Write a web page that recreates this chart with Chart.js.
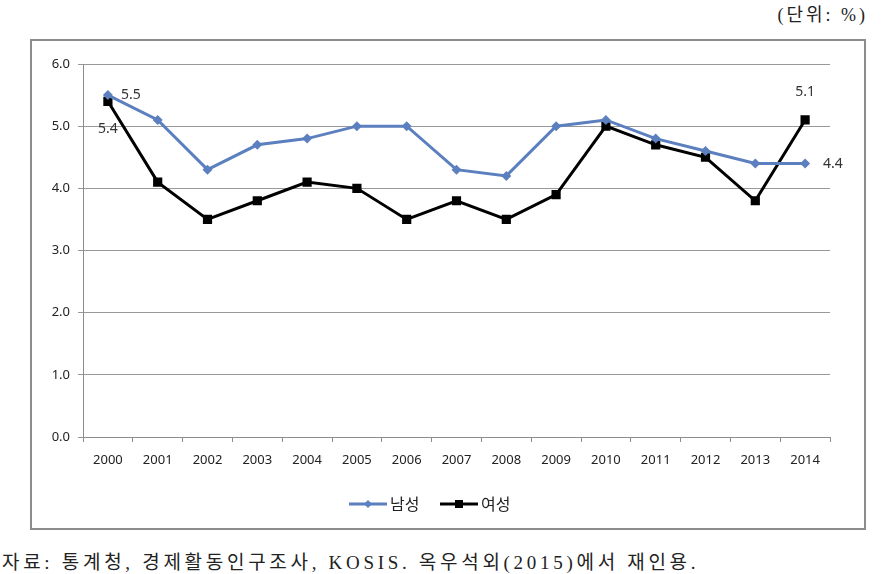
<!DOCTYPE html>
<html>
<head>
<meta charset="utf-8">
<script src="https://cdn.jsdelivr.net/npm/chart.js@4"></script>
<style>
  body { margin: 0; background: #fff; width: 894px; height: 574px; position: relative; overflow: hidden; }
  #unit { position: absolute; right: 26px; top: 0px; font-family: "Liberation Serif", "Noto Sans CJK KR", serif; font-size: 18px; letter-spacing: 3px; color: #222; }
  #box { position: absolute; left: 30px; top: 39px; width: 836px; height: 491px; border: 2px solid #8c8c8c; box-sizing: border-box; }
  #caption { position: absolute; left: 2px; top: 547px; font-family: "Liberation Serif", "Noto Sans CJK KR", serif; font-size: 19px; letter-spacing: 3.7px; color: #222; }
</style>
</head>
<body>
<div id="unit">(단위: %)</div>
<div id="box"><canvas id="rateChart" width="832" height="487"></canvas></div>
<div id="caption">자료: 통계청, 경제활동인구조사, KOSIS. 옥우석외(2015)에서 재인용.</div>
<script>
// data
const years = ['2000', '2001', '2002', '2003', '2004', '2005', '2006', '2007',
               '2008', '2009', '2010', '2011', '2012', '2013', '2014'];
const maleRate = [5.5, 5.1, 4.3, 4.7, 4.8, 5.0, 5.0, 4.3, 4.2, 5.0, 5.1, 4.8, 4.6, 4.4, 4.4];
const femaleRate = [5.4, 4.1, 3.5, 3.8, 4.1, 4.0, 3.5, 3.8, 3.5, 3.9, 5.0, 4.7, 4.5, 3.8, 5.1];
const seriesNames = ['남성', '여성'];

const blue = '#5b7fbf';
const labelFont = '14px "Noto Sans", sans-serif';

// only first and last points carry a label, like the original
const pointLabels = [
    { ds: 0, idx: 0, dx: 13, dy: 0, align: 'left' },
    { ds: 1, idx: 0, dx: 0, dy: 28, align: 'center' },
    { ds: 1, idx: 14, dx: 0, dy: -28, align: 'center' },
    { ds: 0, idx: 14, dx: 18, dy: 1, align: 'left' }
];

const labelPlugin = {
    id: 'pointLabels',
    afterDatasetsDraw(chart) {
        const ctx = chart.ctx;
        ctx.save();
        ctx.font = labelFont;
        ctx.fillStyle = '#333';
        ctx.textBaseline = 'middle';
        pointLabels.forEach(l => {
            const pt = chart.getDatasetMeta(l.ds).data[l.idx];
            const v = chart.data.datasets[l.ds].data[l.idx];
            ctx.textAlign = l.align;
            ctx.fillText(v.toFixed(1), pt.x + l.dx, pt.y + l.dy);
        });
        ctx.restore();
    }
};

const legendPlugin = {
    id: 'lineLegend',
    afterDraw(chart) {
        const ctx = chart.ctx;
        const cx = chart.width / 2;
        const y = 463;
        const items = [
            { x: cx - 99, color: blue, style: 'diamond', text: seriesNames[0] },
            { x: cx - 8, color: '#000', style: 'square', text: seriesNames[1] }
        ];
        ctx.save();
        items.forEach(it => {
            ctx.strokeStyle = it.color;
            ctx.lineWidth = 3;
            ctx.beginPath();
            ctx.moveTo(it.x, y);
            ctx.lineTo(it.x + 38, y);
            ctx.stroke();
            ctx.fillStyle = it.color;
            const mx = it.x + 19;
            if (it.style === 'diamond') {
                ctx.beginPath();
                ctx.moveTo(mx, y - 4);
                ctx.lineTo(mx + 4, y);
                ctx.lineTo(mx, y + 4);
                ctx.lineTo(mx - 4, y);
                ctx.closePath();
                ctx.fill();
            } else {
                ctx.fillRect(mx - 4, y - 4, 8, 8);
            }
            ctx.fillStyle = '#222';
            ctx.font = '16px "Noto Sans CJK KR", sans-serif';
            ctx.textAlign = 'left';
            ctx.textBaseline = 'middle';
            ctx.fillText(it.text, it.x + 41, y);
        });
        ctx.restore();
    }
};

new Chart(document.getElementById('rateChart'), {
    type: 'line',
    data: {
        labels: years,
        datasets: [{
            label: seriesNames[0],
            data: maleRate,
            borderColor: blue,
            backgroundColor: blue,
            borderWidth: 3,
            pointStyle: 'rectRot',
            pointRadius: 5,
            pointBorderWidth: 0,
            tension: 0
        }, {
            label: seriesNames[1],
            data: femaleRate,
            borderColor: '#000',
            backgroundColor: '#000',
            borderWidth: 3,
            pointStyle: 'rect',
            pointRadius: 6.5,
            pointBorderWidth: 0,
            tension: 0
        }]
    },
    options: {
        responsive: false,
        animation: false,
        layout: { padding: { left: 0, top: 23, right: 34, bottom: 0 } },
        plugins: {
            legend: { display: false },
            tooltip: { enabled: false }
        },
        scales: {
            x: {
                offset: true,
                grid: { offset: true, drawOnChartArea: false, tickLength: 5, color: '#8c8c8c' },
                border: { color: '#8c8c8c', width: 1 },
                ticks: { padding: 10, color: '#222', font: { family: 'Noto Sans', size: 13 }, maxRotation: 0 },
                afterFit(scale) { scale.height = 91; }
            },
            y: {
                min: 0,
                max: 6,
                grid: { color: '#999', tickLength: 5 },
                border: { color: '#8c8c8c', width: 1 },
                ticks: {
                    stepSize: 1,
                    padding: 8,
                    color: '#222',
                    font: { family: 'Noto Sans', size: 13 },
                    callback: v => v.toFixed(1)
                },
                afterFit(scale) { scale.width = 51; }
            }
        }
    },
    plugins: [labelPlugin, legendPlugin]
});
</script>
</body>
</html>
